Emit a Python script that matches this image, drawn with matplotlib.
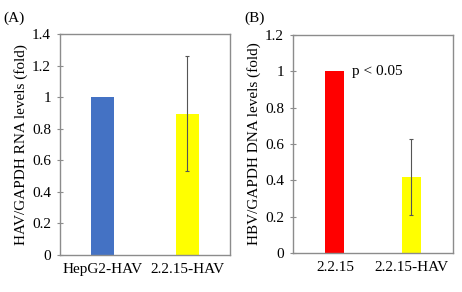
import numpy as np
import matplotlib.pyplot as plt

plt.rcParams['font.family'] = ['Liberation Serif', 'DejaVu Serif']

# panel A
cats_a = ['HepG2-HAV', '2.2.15-HAV']
vals_a = [1.0, 0.895]
err_lo_a = [0.0, 0.36]
err_hi_a = [0.0, 0.365]
colors_a = ['#4472c4', '#ffff00']

# panel B
cats_b = ['2.2.15', '2.2.15-HAV']
vals_b = [1.0, 0.42]
err_lo_b = [0.0, 0.21]
err_hi_b = [0.0, 0.21]
colors_b = ['#ff0000', '#ffff00']

frame_col = '#8c8c8c'

fig = plt.figure(figsize=(4.62, 2.92), dpi=100)
ax1 = fig.add_axes([60/462, 1-255/292, 170/462, 221/292])
ax2 = fig.add_axes([293/462, 1-253/292, 160/462, 218/292])


def style(ax):
    for s in ax.spines.values():
        s.set_color(frame_col)
        s.set_linewidth(1.0)
    ax.tick_params(axis='y', direction='inout', length=5, width=0.8, color=frame_col,
                   labelsize=11, pad=4)
    ax.tick_params(axis='x', length=0, labelsize=11, pad=6)


x = np.arange(2)
ax1.bar(x, vals_a, width=0.26, color=colors_a)
ax1.errorbar(x[1], vals_a[1], yerr=[[err_lo_a[1]], [err_hi_a[1]]], fmt='none',
             ecolor='#555555', elinewidth=0.8, capsize=1.5, capthick=0.8)
ax1.set_xlim(-0.5, 1.5)
ax1.set_ylim(0, 1.4)
ax1.set_yticks(np.arange(0, 1.41, 0.2))
ax1.set_yticklabels(['0', '0.2', '0.4', '0.6', '0.8', '1', '1.2', '1.4'])
ax1.set_xticks(x)
ax1.set_xticklabels(cats_a)
ax1.set_ylabel('HAV/GAPDH RNA levels (fold)', fontsize=11, labelpad=3)
style(ax1)

ax2.bar(x, vals_b, width=0.25, color=colors_b)
ax2.errorbar(x[1], vals_b[1], yerr=[[err_lo_b[1]], [err_hi_b[1]]], fmt='none',
             ecolor='#555555', elinewidth=0.8, capsize=1.5, capthick=0.8)
ax2.set_xlim(-0.55, 1.55)
ax2.set_ylim(0, 1.2)
ax2.set_yticks(np.arange(0, 1.21, 0.2))
ax2.set_yticklabels(['0', '0.2', '0.4', '0.6', '0.8', '1', '1.2'])
ax2.set_xticks(x)
ax2.set_xticklabels(cats_b)
ax2.set_ylabel('HBV/GAPDH DNA levels (fold)', fontsize=11, labelpad=3)
ax2.text(0.23, 1.0, 'p < 0.05', fontsize=11, ha='left', va='center')
style(ax2)

fig.text(3/462, 1-18/292, '(A)', fontsize=11, ha='left', va='center')
fig.text(244/462, 1-18/292, '(B)', fontsize=11, ha='left', va='center')

fig.savefig('out.png', dpi=100)
